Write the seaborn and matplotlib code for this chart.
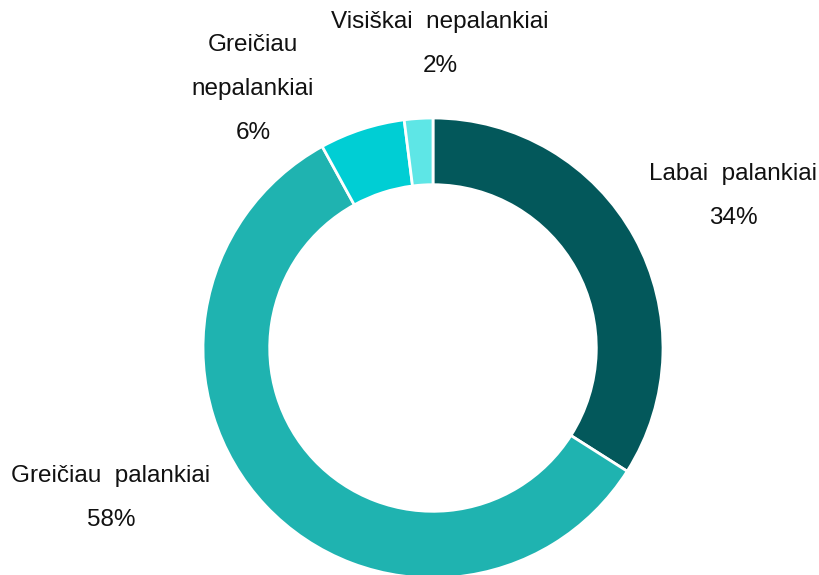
import matplotlib
matplotlib.use("Agg")
import matplotlib.pyplot as plt
import seaborn as sns

categories = ["Labai palankiai", "Greičiau palankiai", "Greičiau nepalankiai", "Visiškai nepalankiai"]
values = [34, 58, 6, 2]
label_texts = ["Labai  palankiai\n34%", "Greičiau  palankiai\n58%", "Greičiau\nnepalankiai\n6%", "Visiškai  nepalankiai\n2%"]
colors = ["#03585B", "#1FB3B0", "#00CED4", "#5EE6E6"]

sns.set_theme(style="white")
plt.rcParams["font.family"] = ["Liberation Sans", "DejaVu Sans"]

fig = plt.figure(figsize=(8.2, 5.75), dpi=100)
ax = fig.add_axes([0, 0, 1, 1])
cx, cy, R = 433, 348, 230
ax.pie(values, colors=colors, startangle=90, counterclock=False, radius=1.0,
       wedgeprops=dict(width=0.29, edgecolor="white", linewidth=2))
ax.set_xlim(-cx / R, (820 - cx) / R)
ax.set_ylim(-(575 - cy) / R, cy / R)
ax.set_aspect("equal")
ax.axis("off")

label_pos = [(1.304, 0.660), (-1.400, -0.652), (-0.783, 1.125), (0.030, 1.320)]
for txt, (x, y) in zip(label_texts, label_pos):
    ax.text(x, y, txt, ha="center", va="center", fontsize=17.5, color="#111111", linespacing=2.3)

fig.savefig("out.png", dpi=100)
